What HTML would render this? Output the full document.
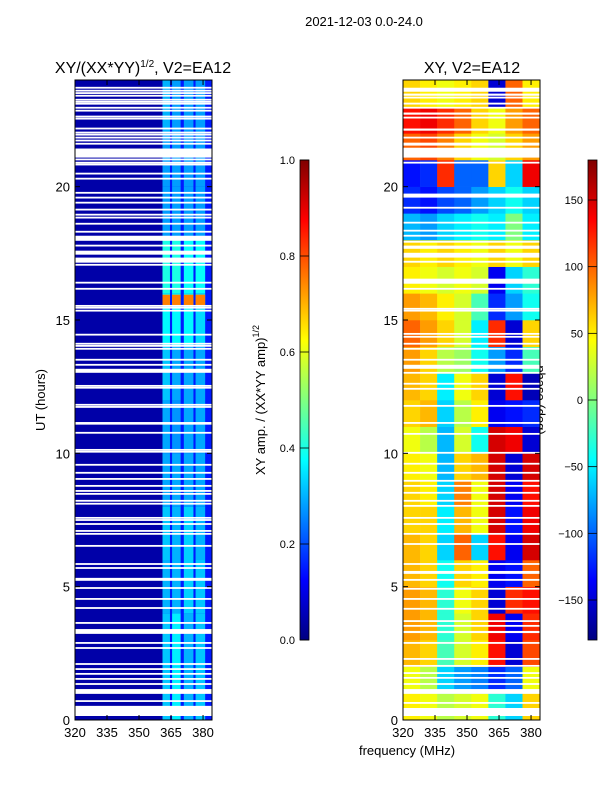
<!DOCTYPE html>
<html><head><meta charset="utf-8">
<style>
body{margin:0;background:#fff;font-family:"Liberation Sans",sans-serif;}
svg text{font-family:"Liberation Sans",sans-serif;fill:#000;}
</style></head>
<body>
<svg id="fig" width="600" height="800" viewBox="0 0 600 800" xmlns="http://www.w3.org/2000/svg">
<rect width="600" height="800" fill="#fff"/>
<text x="364" y="26" font-size="13" text-anchor="middle">2021-12-03 0.0-24.0</text>
<text x="143" y="73" font-size="16" text-anchor="middle">XY/(XX*YY)<tspan font-size="10" dy="-6">1/2</tspan><tspan dy="6">, V2=EA12</tspan></text>
<text x="472" y="73" font-size="16" text-anchor="middle">XY, V2=EA12</text>
<text x="0" y="0" font-size="13" text-anchor="middle" transform="translate(45,400) rotate(-90)">UT (hours)</text>
<text x="407" y="755" font-size="13" text-anchor="middle">frequency (MHz)</text>
<text x="0" y="0" font-size="13" text-anchor="middle" transform="translate(265,400) rotate(-90)">XY amp. / (XX*YY amp)<tspan font-size="9" dy="-6">1/2</tspan></text>
<text x="0" y="0" font-size="13" text-anchor="middle" transform="translate(536,400) rotate(90)">phase (deg)</text>
<g id="left"></g><g id="right"></g><g id="cbs"></g>
</svg>
<script>
// ---- data ----
const freqMin = 320, freqMax = 384.2, hourMin = 0, hourMax = 24;
const xTicks = [320, 335, 350, 365, 380];
const yTicks = [0, 5, 10, 15, 20];
// left panel (normalized amplitude)
const ampBackground = 0.04;
const stripeRanges = [[361, 364.5], [365.5, 369.5], [371, 375.5], [376.5, 381]];
const stripeGapValue = 0.15;
const ampBands = [0,2,4,6,8,10,12,14,16,18,20,22];
const stripeValues = [
 [0.32,0.36,0.3,0.32],[0.32,0.36,0.3,0.32],[0.3,0.3,0.33,0.32],[0.32,0.3,0.33,0.3],
 [0.29,0.29,0.29,0.29],[0.29,0.27,0.29,0.29],[0.32,0.29,0.29,0.29],[0.37,0.37,0.37,0.34],
 [0.4,0.4,0.38,0.38],[0.28,0.28,0.28,0.28],[0.28,0.28,0.28,0.28],[0.3,0.28,0.28,0.28]];
const ampFlareHours = [15.55, 15.95];
const ampFlareValue = 0.75;
const leftThinGaps = [23.71,23.6,23.51,23.41,23.26,23.18,23.11,22.96,22.85,22.63,22.55,22.18,22.03,21.95,21.84,21.73,21.61,21.02,20.9,20.83,20.49,20.3,19.77,19.59,19.4,19.14,18.95,18.84,18.61,18.31,17.79,17.07,16.4,16.17,15.53,15.46,15.35,14.45,14.11,14.03,13.92,13.51,13.32,12.53,12.46,11.82,11.74,11.14,11.11,10.77,10.13,10.06,9.57,9.27,9.04,8.78,8.59,8.48,8.22,8.11,7.58,7.5,7.35,7.09,6.98,6.53,5.85,5.7,4.95,4.54,4.2,3.64,2.89,2.7,2.1,1.91,1.73,1.54,1.35,0.71];
const leftThickGaps = [[21.09,21.43],[17.97,18.16],[17.45,17.6],[17.15,17.34],[13.02,13.17],[5.22,5.33],[3.23,3.41],[0.98,1.16],[0.15,0.53]];
// right panel (phase, deg) rows = hour bins, cols = freq bins
const phaseFreqEdges = [320,328,336,344,352,360,368,376,384.2];
const phaseRows = [
 [50,40,20,30,40,-30,-60,60],
 [40,20,-60,-80,-90,-120,-100,40],
 [70,60,-20,30,50,130,-150,110],
 [80,70,-30,30,60,140,-140,120],
 [80,70,-30,40,60,-150,120,130],
 [70,60,-40,60,50,-140,-130,100],
 [70,60,-60,100,-60,130,-140,150],
 [60,60,-50,70,40,150,-130,140],
 [60,50,-60,90,40,150,-140,130],
 [50,40,-70,60,70,150,-150,150],
 [40,20,-70,30,-40,150,140,-150],
 [60,70,-60,20,50,-140,-130,-120],
 [70,60,-50,40,60,-150,130,-160],
 [80,60,20,10,-40,-80,-120,-20],
 [100,80,60,30,-50,120,-150,60],
 [80,70,50,30,-20,-120,-80,-40],
 [50,40,30,40,30,-140,-60,-30],
 [60,50,60,50,40,60,40,60],
 [-70,-80,-60,-50,-40,-50,0,-50],
 [-120,-130,-110,-100,-80,-60,-40,-60],
 [-130,-120,120,-100,-100,60,-60,140],
 [100,110,90,60,40,30,60,80],
 [130,140,120,100,60,40,80,100],
 [60,50,40,50,60,-150,100,50]];
const rightThinGaps = [23.34,22.96,22.59,21.84,20.9,19.21,18.65,18.35,18.16,16.17,15.42,15.35,14.48,14.37,14.11,13.92,13.51,13.02,12.61,12.42,11.78,11.14,10.73,10.02,9.61,9.27,8.97,8.78,8.52,8.22,8.03,7.58,7.35,6.98,6.6,5.85,4.92,4.54,4.17,3.71,3.53,2.89,2.29,2.03,1.76,1.58,1.35,0.64];
const rightThickGaps = [[23.56,23.71],[23.41,23.49],[23.08,23.15],[22.7,22.78],[22.1,22.18],[21.54,21.65],[21.09,21.46],[19.59,19.74],[17.9,17.97],[17.67,17.79],[17.34,17.52],[17.15,17.22],[16.36,16.55],[13.17,13.32],[5.48,5.59],[5.22,5.29],[3.26,3.34],[0.98,1.16],[0.15,0.45]];
const ampCbTicks = [0.0,0.2,0.4,0.6,0.8,1.0];
const phaseCbTicks = [-150,-100,-50,0,50,100,150];

// ---- helpers ----
const NS = "http://www.w3.org/2000/svg";
const plotTop = 80, plotBottom = 720;
function yScale(h){ return plotBottom - (h - hourMin) / (hourMax - hourMin) * (plotBottom - plotTop); }
function xScaleFor(x0, x1){ return f => x0 + (f - freqMin) / (freqMax - freqMin) * (x1 - x0); }
function clip(v){ return Math.max(0, Math.min(1, v)); }
function jet(t){
  t = clip(t);
  const r = clip(1.5 - Math.abs(4*t - 3)), g = clip(1.5 - Math.abs(4*t - 2)), b = clip(1.5 - Math.abs(4*t - 1));
  return `rgb(${Math.round(r*255)},${Math.round(g*255)},${Math.round(b*255)})`;
}
function mk(tag, attrs, parent){
  const e = document.createElementNS(NS, tag);
  for (const k in attrs) e.setAttribute(k, attrs[k]);
  parent.appendChild(e); return e;
}
function drawGaps(g, xs, thin, thick){
  thin.forEach(h => {
    const r = mk('rect', {x: xs(freqMin), y: yScale(h) - 0.9, width: xs(freqMax) - xs(freqMin), height: 1.8, fill: '#fff'}, g);
    
    
  });
  thick.forEach(p => {
    const r = mk('rect', {x: xs(freqMin), y: yScale(p[1]), width: xs(freqMax) - xs(freqMin), height: yScale(p[0]) - yScale(p[1]), fill: '#fff'}, g);
    
    
  });
}
function drawAxes(g, x0, x1){
  const xs = xScaleFor(x0, x1);
  const fr = mk('rect', {x: x0, y: plotTop, width: x1 - x0, height: plotBottom - plotTop, fill: 'none', stroke: '#000', 'stroke-width': 1}, g);
  
  
  xTicks.forEach(v => {
    const x = xs(v);
    mk('line', {x1: x, x2: x, y1: plotBottom, y2: plotBottom - 5, stroke: '#000'}, g);
    mk('line', {x1: x, x2: x, y1: plotTop, y2: plotTop + 5, stroke: '#000'}, g);
    const t = mk('text', {x: x, y: plotBottom + 17, 'font-size': 13, 'text-anchor': 'middle'}, g);
    t.textContent = v;
    
    
  });
  yTicks.forEach(v => {
    const y = yScale(v);
    mk('line', {x1: x0, x2: x0 + 5, y1: y, y2: y, stroke: '#000'}, g);
    mk('line', {x1: x1, x2: x1 - 5, y1: y, y2: y, stroke: '#000'}, g);
    const t = mk('text', {x: x0 - 5, y: y + 5, 'font-size': 13, 'text-anchor': 'end'}, g);
    t.textContent = v;
    
    
  });
}

// ---- left panel ----
(function(){
  const g = document.getElementById('left');
  
  
  const x0 = 75, x1 = 212, xs = xScaleFor(x0, x1);
  const bg = mk('rect', {x: x0, y: plotTop, width: x1 - x0, height: plotBottom - plotTop, fill: jet(ampBackground)}, g);
  
  
  const gapR = mk('rect', {x: xs(stripeRanges[0][0]), y: plotTop, width: xs(freqMax) - xs(stripeRanges[0][0]), height: plotBottom - plotTop, fill: jet(stripeGapValue)}, g);
  
  
  ampBands.forEach((h, bi) => {
    const h1 = bi + 1 < ampBands.length ? ampBands[bi + 1] : hourMax;
    stripeRanges.forEach((sr, si) => {
      const c = mk('rect', {x: xs(sr[0]), y: yScale(h1), width: xs(sr[1]) - xs(sr[0]), height: yScale(h) - yScale(h1), fill: jet(stripeValues[bi][si])}, g);
      
      
    });
  });
  stripeRanges.forEach(sr => {
    const f = mk('rect', {x: xs(sr[0]), y: yScale(ampFlareHours[1]), width: xs(sr[1]) - xs(sr[0]), height: yScale(ampFlareHours[0]) - yScale(ampFlareHours[1]), fill: jet(ampFlareValue)}, g);
    
    
  });
  drawGaps(g, xs, leftThinGaps, leftThickGaps);
  drawAxes(g, x0, x1);
})();

// ---- right panel ----
(function(){
  const g = document.getElementById('right');
  
  
  const x0 = 403, x1 = 540, xs = xScaleFor(x0, x1);
  phaseRows.forEach((row, ri) => {
    row.forEach((v, ci) => {
      const c = mk('rect', {x: xs(phaseFreqEdges[ci]), y: yScale(ri + 1), width: xs(phaseFreqEdges[ci + 1]) - xs(phaseFreqEdges[ci]) + 0.3, height: yScale(ri) - yScale(ri + 1) + 0.3, fill: jet((v + 180) / 360)}, g);
      
      
    });
  });
  drawGaps(g, xs, rightThinGaps, rightThickGaps);
  drawAxes(g, x0, x1);
})();

// ---- colorbars ----
(function(){
  const g = document.getElementById('cbs');
  const defs = mk('defs', {}, g);
  const grad = mk('linearGradient', {id: 'jetg', x1: 0, y1: 1, x2: 0, y2: 0}, defs);
  for (let i = 0; i <= 16; i++) mk('stop', {offset: i / 16, 'stop-color': jet(i / 16)}, grad);
  function bar(x, name, ticks, vmin, vmax, fmt){
    const r = mk('rect', {x: x, y: 160, width: 9, height: 480, fill: 'url(#jetg)', stroke: '#000', 'stroke-width': 0.8}, g);
    
    
    ticks.forEach(v => {
      const y = 640 - (v - vmin) / (vmax - vmin) * 480;
      mk('line', {x1: x, x2: x + 9, y1: y, y2: y, stroke: '#000', 'stroke-width': 0.8}, g);
      const t = mk('text', {x: x - 5, y: y + 4, 'font-size': 11, 'text-anchor': 'end'}, g);
      t.textContent = fmt(v);
      
      
    });
  }
  bar(300, 'amplitude-colorbar', ampCbTicks, 0, 1, v => v.toFixed(1));
  bar(588, 'phase-colorbar', phaseCbTicks, -180, 180, v => v < 0 ? '\u2212' + (-v) : String(v));
})();
</script>
</body></html>
